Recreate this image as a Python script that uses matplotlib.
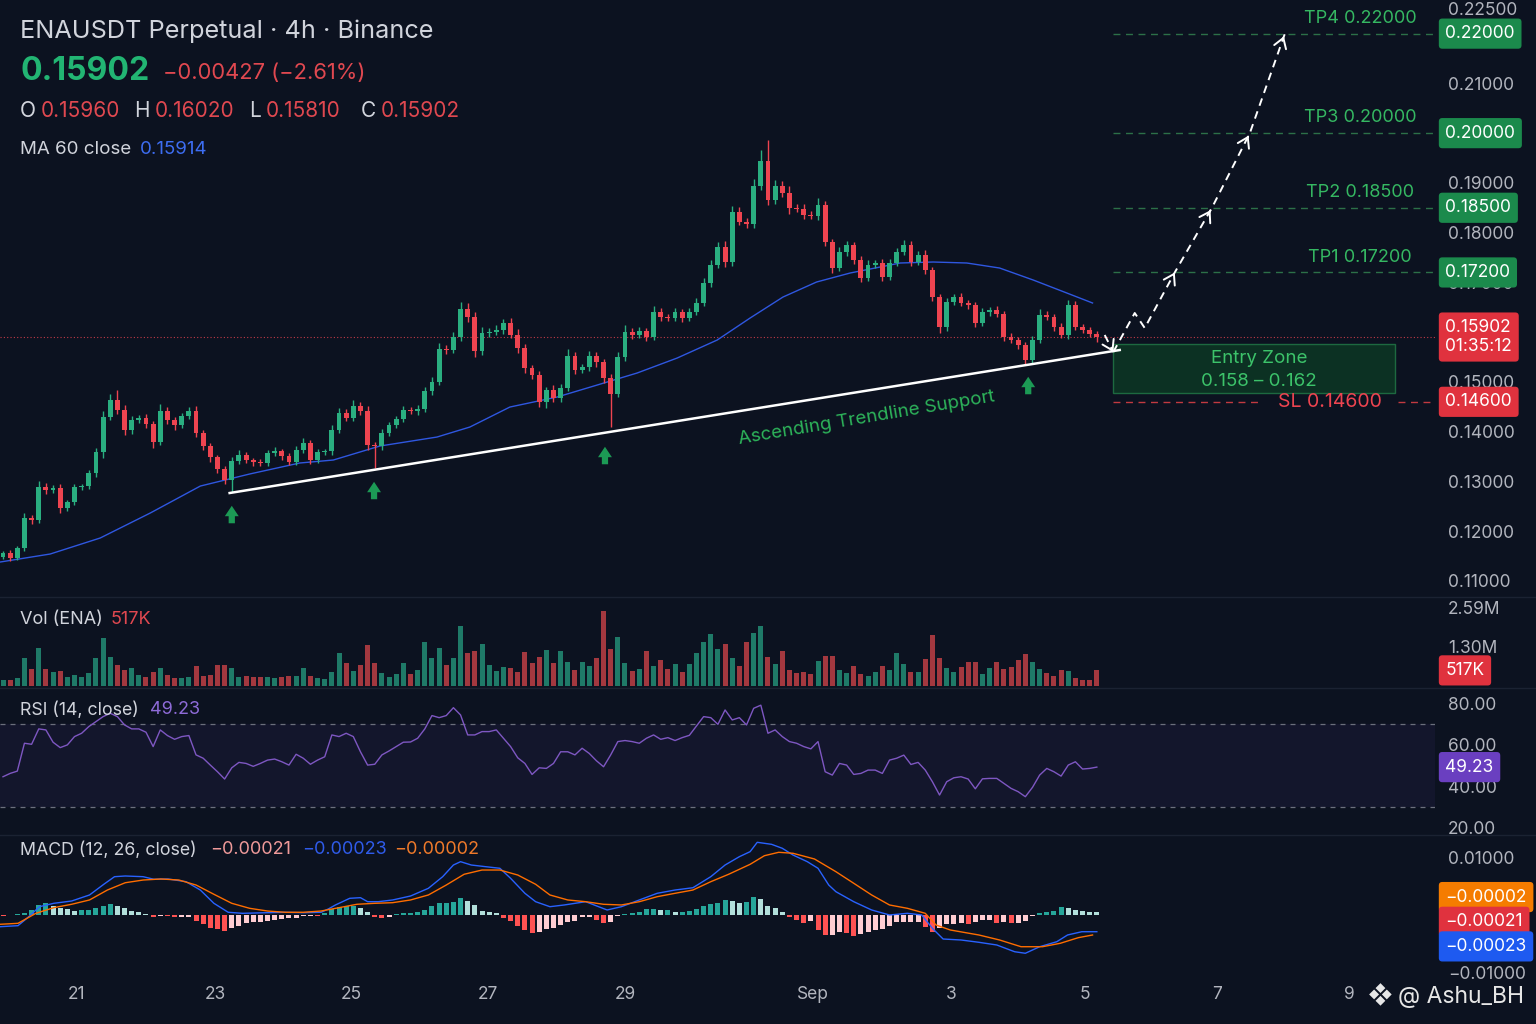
import matplotlib
matplotlib.use('Agg')
import matplotlib.pyplot as plt
import numpy as np
from matplotlib.patches import Rectangle
from matplotlib.lines import Line2D
from matplotlib.transforms import blended_transform_factory
from matplotlib.ticker import FuncFormatter

plt.rcParams['font.family'] = ['Inter', 'DejaVu Sans']

# ---- data (4h candles, index 0..153) ----
first_open = 0.11480
closes = [
    0.11561, 0.11460, 0.11661, 0.12264, 0.12224, 0.12887, 0.12827, 0.12867, 0.12465, 0.12586,
    0.12887, 0.12907, 0.13169, 0.13591, 0.14294, 0.14636, 0.14435, 0.14033, 0.14234, 0.14274,
    0.14154, 0.13792, 0.14415, 0.14234, 0.14133, 0.14314, 0.14415, 0.13973, 0.13711, 0.13490,
    0.13249, 0.13028, 0.13410, 0.13530, 0.13430, 0.13390, 0.13370, 0.13571, 0.13611, 0.13510,
    0.13390, 0.13631, 0.13772, 0.13430, 0.13591, 0.13611, 0.14033, 0.14375, 0.14274, 0.14515,
    0.14415, 0.13732, 0.13711, 0.13973, 0.14133, 0.14254, 0.14435, 0.14415, 0.14455, 0.14817,
    0.14998, 0.15661, 0.15641, 0.15902, 0.16465, 0.16304, 0.15621, 0.15983, 0.16003, 0.16043,
    0.16184, 0.15943, 0.15681, 0.15279, 0.15139, 0.14596, 0.14837, 0.14676, 0.14877, 0.15520,
    0.15239, 0.15299, 0.15520, 0.15400, 0.15078, 0.14757, 0.15500, 0.16003, 0.15943, 0.16023,
    0.15902, 0.16405, 0.16304, 0.16284, 0.16405, 0.16284, 0.16405, 0.16586, 0.16988, 0.17350,
    0.17711, 0.17410, 0.18415, 0.18214, 0.18174, 0.18937, 0.19440, 0.18656, 0.18937, 0.18797,
    0.18495, 0.18475, 0.18355, 0.18334, 0.18556, 0.17812, 0.17289, 0.17611, 0.17752, 0.17450,
    0.17088, 0.17350, 0.17390, 0.17108, 0.17390, 0.17611, 0.17752, 0.17410, 0.17551, 0.17249,
    0.16706, 0.16103, 0.16606, 0.16706, 0.16586, 0.16546, 0.16184, 0.16405, 0.16445, 0.16365,
    0.15902, 0.15842, 0.15742, 0.15440, 0.15842, 0.16345, 0.16304, 0.16103, 0.15943, 0.16546,
    0.16103, 0.16043, 0.15960, 0.15902]
# wick lengths in units of 0.0001
upper_wick = [
    4, 6, 5, 10, 6, 12, 8, 6, 8, 5, 6, 5, 7, 8, 12, 12, 20, 10, 8, 6,
    8, 6, 14, 8, 6, 6, 8, 10, 6, 7, 5, 6, 8, 10, 6, 5, 6, 6, 8, 5,
    6, 8, 10, 6, 6, 5, 10, 10, 8, 12, 8, 10, 6, 8, 6, 7, 8, 6, 8, 8,
    10, 12, 8, 10, 14, 12, 10, 12, 8, 10, 8, 10, 12, 8, 6, 8, 6, 10, 8, 14,
    8, 6, 10, 8, 6, 8, 10, 14, 8, 8, 6, 12, 8, 6, 8, 6, 8, 10, 10, 10,
    10, 12, 12, 10, 8, 14, 22, 42, 12, 10, 14, 8, 10, 8, 14, 8, 6, 10, 8, 6,
    8, 10, 6, 8, 8, 8, 10, 8, 8, 10, 6, 6, 8, 6, 8, 6, 6, 8, 6, 8,
    6, 8, 6, 6, 8, 12, 8, 6, 8, 10, 8, 6, 6, 6]
lower_wick = [
    4, 5, 4, 6, 8, 6, 8, 6, 10, 6, 5, 6, 5, 8, 12, 6, 8, 10, 8, 6,
    8, 12, 6, 8, 10, 6, 6, 8, 8, 10, 8, 8, 25, 6, 6, 8, 6, 6, 6, 8,
    6, 6, 6, 8, 6, 5, 8, 6, 6, 6, 8, 10, 44, 8, 6, 6, 6, 6, 8, 6,
    8, 6, 8, 6, 8, 10, 12, 8, 8, 6, 8, 6, 10, 10, 8, 10, 12, 8, 8, 6,
    8, 6, 8, 10, 10, 66, 6, 8, 8, 6, 8, 6, 8, 6, 6, 8, 6, 6, 6, 8,
    6, 10, 8, 6, 8, 8, 8, 10, 8, 8, 12, 6, 8, 6, 8, 8, 10, 6, 8, 8,
    8, 6, 6, 8, 6, 6, 6, 8, 6, 8, 8, 12, 8, 6, 6, 8, 8, 6, 8, 6,
    8, 6, 8, 8, 6, 6, 6, 8, 6, 8, 6, 6, 6, 9]
# volume in thousands
volume_k = [
    200, 200, 255, 920, 555, 1250, 555, 475, 510, 310, 365, 310, 420, 920, 1585, 975, 700, 530, 590, 365,
    310, 475, 590, 365, 255, 255, 310, 665, 330, 365, 700, 700, 590, 310, 340, 290, 290, 290, 265, 310,
    330, 330, 590, 330, 255, 220, 475, 1085, 755, 510, 700, 1360, 755, 420, 310, 400, 775, 400, 530, 1470,
    920, 1270, 700, 920, 1990, 1085, 1160, 1385, 700, 510, 620, 590, 475, 1140, 775, 975, 1195, 755,
    1173, 786, 531, 786, 675, 941, 2469, 1218, 1638, 775, 498, 554, 1162, 675, 863, 565, 720, 476, 720, 1107,
    1472, 1727, 1229, 1384, 941, 675, 1472, 1749, 1993, 952, 731, 1173, 531, 443, 476, 387, 841, 996, 996, 531,
    443, 675, 399, 343, 454, 675, 531, 1085, 720, 454, 476, 886, 1694, 919, 609, 476, 642, 808, 808, 387,
    587, 786, 554, 620, 863, 1063, 786, 554, 443, 343, 531, 509, 277, 199, 199, 517]
rsi = [
    44.6, 46.2, 47.3, 60.7, 60.2, 67.6, 67.1, 61.2, 58.6, 59.9, 63.9, 65.5, 68.7, 71.1, 73.5, 75.1, 73.5, 69.5, 67.6, 67.6,
    66.0, 59.1, 67.1, 64.4, 62.6, 63.9, 64.4, 55.1, 53.5, 50.2, 47.0, 43.5, 48.9, 51.5, 51.0, 49.6, 51.0, 52.6, 53.1, 51.8,
    50.2, 55.4, 53.5, 50.6, 52.6, 54.2, 64.7, 63.9, 65.5, 63.9, 56.6, 50.2, 50.6, 55.1, 57.0, 59.1, 61.2, 61.3, 63.1, 67.6,
    74.0, 73.0, 74.0, 77.8, 74.3, 64.7, 64.7, 66.3, 66.3, 67.1, 63.1, 59.1, 53.7, 51.0, 45.7, 48.9, 48.6, 51.0, 56.6, 56.6,
    55.1, 58.3, 55.8, 52.3, 49.4, 55.1, 61.5, 62.0, 61.5, 60.7, 63.1, 64.7, 62.6, 63.4, 62.0, 63.4, 64.5, 69.0, 73.5, 73.0,
    69.8, 76.7, 71.9, 73.0, 69.5, 77.5, 79.0, 65.5, 67.1, 63.9, 61.5, 60.7, 59.1, 58.0, 61.5, 47.0, 45.4, 51.0, 50.2, 45.7,
    46.2, 47.8, 47.8, 46.2, 52.6, 53.5, 55.0, 50.5, 51.5, 47.8, 42.2, 35.8, 42.2, 44.1, 44.6, 43.5, 38.8, 43.6, 43.8, 43.8,
    41.4, 39.0, 37.4, 35.0, 39.5, 45.4, 48.6, 47.0, 44.9, 50.2, 51.8, 48.3, 48.6, 49.23]
# MACD histogram in units of 0.001
macd_hist = [
    -0.10, 0.10, 0.20, 0.38, 0.96, 1.83, 2.12, 1.71, 1.36, 1.13, 0.78, 0.96, 0.96, 1.25, 1.71, 1.95, 1.71, 1.25, 0.78, 0.66,
    0.26, -0.29, -0.10, -0.15, -0.29, -0.29, -0.20, -0.96, -1.53, -2.12, -2.40, -2.64, -2.23, -1.77, -1.36, -1.18, -1.08, -0.90, -0.73, -0.61,
    -0.49, -0.38, -0.17, -0.12, -0.15, 0.38, 1.13, 1.53, 1.65, 1.71, 1.25, 0.58, -0.29, -0.38, -0.20, 0.23, 0.35, 0.46, 0.58, 0.96,
    1.71, 2.09, 2.12, 2.40, 2.99, 2.58, 1.83, 0.78, 0.58, 0.38, -0.38, -0.90, -1.91, -2.52, -3.10, -2.82, -2.40, -2.23, -1.65, -1.08,
    -0.90, -0.20, -0.20, -0.78, -1.36, -1.08, -0.10, 0.23, 0.35, 0.58, 1.13, 1.13, 0.96, 0.96, 0.66, 0.66, 0.78, 1.13, 1.71, 2.00,
    2.12, 2.70, 2.58, 2.23, 2.40, 3.16, 2.82, 1.65, 1.36, 0.58, -0.20, -0.78, -1.25, -0.96, -2.52, -3.39, -3.39, -2.82, -3.10, -3.51,
    -3.27, -2.82, -2.52, -2.40, -1.77, -1.18, -1.18, -1.18, -1.18, -1.95, -2.82, -2.23, -1.53, -1.53, -1.36, -1.53, -1.18, -0.84, -0.78, -1.36,
    -1.18, -1.36, -1.36, -0.96, -0.10, 0.38, 0.66, 0.78, 1.42, 1.25, 0.96, 0.85, 0.58, 0.55]
macd_idx = [-0.4, 2.1, 3.6, 5.1, 7.1, 9.6, 12.1, 14.1, 15.6, 17.1, 19.6, 21.1, 23.1, 25.6, 27.6, 29.5, 31.5, 33.5, 37.0, 39.5,
            42.0, 44.5, 45.5, 46.5, 48.5, 50.0, 51.0, 52.5, 54.5, 57.0, 59.5, 61.5, 63.0, 64.0, 65.5, 67.5, 69.5, 71.0, 73.0, 74.5,
            76.5, 78.5, 81.5, 84.5, 86.5, 89.0, 91.5, 94.0, 96.5, 99.0, 101.0, 103.0, 104.5, 105.5, 107.5, 109.0, 110.5, 112.5, 114.0, 115.5,
            116.5, 119.0, 121.5, 124.0, 126.5, 128.5, 130.0, 131.5, 134.0, 136.5, 139.0, 141.5, 143.0, 145.0, 147.4, 148.9, 150.9, 153.0]
macd_line = [-1.95, -1.77, -0.21, 1.53, 2.12, 2.52, 3.57, 5.43, 6.75, 6.87, 6.75, 6.30, 6.35, 5.88, 4.43, 2.12, 0.56, 0.38, 0.49, 0.56,
             0.49, 0.56, 1.13, 1.83, 2.99, 3.10, 2.40, 2.40, 2.70, 3.39, 4.73, 6.75, 8.78, 9.36, 8.78, 8.49, 8.21, 6.47, 3.86, 2.40,
             1.53, 1.83, 2.40, 0.96, 1.53, 2.70, 3.86, 4.43, 4.83, 6.75, 8.78, 10.23, 11.10, 12.73, 12.38, 11.69, 10.52, 9.36, 8.21, 5.30,
             4.14, 2.40, 0.96, 0.09, 0.38, 0.09, -2.23, -4.09, -4.26, -4.66, -5.13, -6.30, -6.57, -5.43, -4.56, -3.39, -2.82, -2.82]
signal_idx = [-0.4, 2.1, 4.6, 7.1, 9.6, 12.1, 14.6, 17.1, 19.6, 22.1, 24.6, 27.0, 29.5, 32.0, 34.5, 37.0, 39.5, 42.0, 44.5, 47.0,
              49.5, 52.0, 54.5, 57.0, 59.5, 62.0, 64.5, 67.0, 69.5, 72.0, 74.5, 76.5, 79.0, 81.5, 84.0, 86.5, 89.0, 91.5, 94.0, 96.5,
              99.0, 101.5, 104.5, 106.5, 108.5, 110.5, 113.5, 116.5, 119.0, 121.5, 124.0, 126.5, 129.0, 130.5, 132.5, 136.5, 139.4, 142.4,
              145.4, 147.9, 150.4, 152.4]
signal_line = [-1.53, -1.36, 0.38, 1.36, 1.95, 2.70, 4.43, 5.70, 6.17, 6.35, 6.17, 5.30, 3.69, 2.12, 1.25, 0.78, 0.56, 0.56, 0.78, 1.36,
               1.95, 2.12, 2.23, 2.70, 3.57, 5.30, 7.17, 7.91, 7.91, 7.04, 5.43, 3.57, 2.70, 2.40, 1.95, 1.83, 2.40, 3.27, 3.86, 4.43,
               5.88, 7.17, 8.90, 10.40, 10.99, 10.82, 9.83, 7.62, 5.60, 3.57, 1.83, 1.25, 0.38, -1.65, -2.52, -3.39, -4.26, -5.43,
               -5.43, -4.83, -3.86, -3.39]
ma_idx = [-0.4, 6.6, 13.6, 20.6, 27.6, 34.5, 41.5, 46.2, 52.7, 60.7, 65.3, 70.9, 77.5, 83.1, 88.7, 94.3, 99.9, 104.5,
          109.1, 113.8, 118.5, 125.5, 130.1, 134.8, 139.4, 144.1, 148.8, 152.4]
ma60 = [0.11380, 0.11541, 0.11863, 0.12365, 0.12907, 0.13149, 0.13370, 0.13430, 0.13711, 0.13892, 0.14093, 0.14495,
        0.14696, 0.14937, 0.15179, 0.15480, 0.15842, 0.16284, 0.16706, 0.17008, 0.17189, 0.17390, 0.17410, 0.17390,
        0.17289, 0.17048, 0.16787, 0.16586]

day_pos = [10.35, 29.65, 48.67, 67.8, 87.1, 113.3, 132.6, 151.3, 169.8, 188.3]
day_labels = ['21', '23', '25', '27', '29', 'Sep', '3', '5', '7', '9']
# 0.16, 0.20 and 0.22 sit under the price / target labels, as on the original
price_ticks = [0.11, 0.12, 0.13, 0.14, 0.15, 0.17, 0.18, 0.19, 0.21, 0.225]

last_price = 0.15902
tp_names = ['TP1', 'TP2', 'TP3', 'TP4']
tp_levels = [0.172, 0.185, 0.200, 0.220]
sl_level = 0.146
trend_x = [31.7, 156.2]
trend_y = [0.12767, 0.15641]
support_x = [32.0, 51.9, 84.2, 143.4]
support_tip = [0.12566, 0.13048, 0.13752, 0.15159]
support_tail = [0.12103, 0.12586, 0.13289, 0.14696]
path_x = [155.3, 158.3, 159.7, 163.9, 169.1, 174.4, 179.3]
path_y = [0.15601, 0.16385, 0.16083, 0.172, 0.185, 0.200, 0.220]

# ---- colours ----
BG = '#0c1220'
SEP = '#1b2232'
TXT = '#d1d4dc'
AX = '#b2b5be'
GREEN = '#2aae80'
RED = '#ee4450'
TPG = '#35b862'

W, H = 1536, 1024
fig = plt.figure(figsize=(15.36, 10.24), dpi=100, facecolor=BG)


def panel(top, bottom, right=1435):
    return [0, 1 - bottom / H, right / W, (bottom - top) / H]


ax_p = fig.add_axes(panel(0, 597))
ax_v = fig.add_axes(panel(597, 688), sharex=ax_p)
ax_r = fig.add_axes(panel(688, 835), sharex=ax_p)
ax_m = fig.add_axes(panel(835, 978), sharex=ax_p)

for ax in (ax_p, ax_v, ax_r, ax_m):
    ax.set_facecolor(BG)
    for s in ax.spines.values():
        s.set_visible(False)
    ax.yaxis.tick_right()
    ax.tick_params(axis='y', length=0, pad=9.5, labelsize=12.5, labelcolor=AX)
    ax.tick_params(axis='x', length=0, labelbottom=False)

ax_p.set_xlim(-0.42, 200.3)

# ---- candles ----
closes = np.array(closes)
opens = np.concatenate([[first_open], closes[:-1]])
highs = np.maximum(opens, closes) + np.array(upper_wick) * 1e-4
lows = np.minimum(opens, closes) - np.array(lower_wick) * 1e-4
idx = np.arange(len(closes))
up = closes >= opens
cols = np.where(up, GREEN, RED)
ax_p.vlines(idx, lows, highs, colors=cols, lw=1.0, zorder=3)
ax_p.bar(idx, np.maximum(np.abs(closes - opens), 0.00025), bottom=np.minimum(opens, closes),
         width=0.68, color=cols, zorder=4)
ax_p.plot(ma_idx, ma60, color='#2f57e0', lw=1.0, zorder=2)

ax_p.set_ylim(0.10677, 0.22676)
ax_p.set_yticks(price_ticks)
ax_p.yaxis.set_major_formatter(FuncFormatter(lambda v, p: f'{v:.5f}'))
ax_p.axhline(last_price, color=RED, lw=0.8, ls=(0, (1, 2)), alpha=0.8, zorder=1)

# trendline + support arrows
ax_p.plot(trend_x, trend_y, color='white', lw=1.8, zorder=5)
for x, tip, tail in zip(support_x, support_tip, support_tail):
    ax_p.annotate('', xy=(x, tip), xytext=(x, tail),
                  arrowprops=dict(arrowstyle='simple,head_width=1.0,head_length=0.75,tail_width=0.45',
                                  fc='#1c9a55', ec='none'))
ax_p.text(120.8, 0.14274, 'Ascending Trendline Support', color='#2db35a', fontsize=13.5,
          rotation=9.5, ha='center', va='center', rotation_mode='anchor')

# targets / stop
ax_p.hlines(tp_levels, 155.3, 200.3, colors='#2c7048', lw=1.0, linestyles=(0, (5, 4)))
for name, lv in zip(tp_names, tp_levels):
    ax_p.annotate(f'{name} {lv:.5f}', xy=(189.8, lv), xytext=(0, 11), textcoords='offset points',
                  ha='center', va='center', color=TPG, fontsize=13)
ax_p.hlines(sl_level, 155.3, 176.1, colors='#c23a40', lw=1.0, linestyles=(0, (5, 4)))
ax_p.hlines(sl_level, 195.1, 200.3, colors='#c23a40', lw=1.0, linestyles=(0, (5, 4)))
ax_p.text(185.6, sl_level, f'SL {sl_level:.5f}', color='#ee4450', fontsize=14, ha='center', va='center')

# entry zone box (annotation placed under the last price)
bt = blended_transform_factory(ax_p.transData, ax_p.transAxes)
ax_p.add_patch(Rectangle((155.3, 0.3417), 194.7 - 155.3, 0.4238 - 0.3417, transform=bt,
                         fc='#0d3324', ec='#1f6e42', lw=1.0, alpha=0.95, zorder=2))
ax_p.text(175.7, 0.3987, 'Entry Zone', transform=bt, color='#3cc36a', fontsize=13.5, ha='center', va='center')
ax_p.text(175.7, 0.3618, '0.158 – 0.162', transform=bt, color='#3cc36a', fontsize=13.5, ha='center', va='center')

# projected path
ax_p.plot([154.1, 155.3], [0.15943, 0.15601], color='white', lw=1.4, ls=(0, (4, 3)), zorder=6)
ax_p.plot(path_x, path_y, color='white', lw=1.4, ls=(0, (4, 3)), zorder=6)
heads = [((154.1, 0.15943), (155.3, 0.15601))] + [((path_x[k - 1], path_y[k - 1]), (path_x[k], path_y[k]))
                                                  for k in range(3, len(path_x))]
for (x0, y0), (x1, y1) in heads:
    ax_p.annotate('', xy=(x1, y1), xytext=(x1 - 0.08 * (x1 - x0), y1 - 0.08 * (y1 - y0)),
                  arrowprops=dict(arrowstyle='->,head_length=0.7,head_width=0.45', color='white', lw=1.4),
                  zorder=6)


def side_label(ax, y, text, fc, coords='data'):
    ax.annotate(text, xy=(1, y), xycoords=('axes fraction', coords), xytext=(7.5, 0),
                textcoords='offset points', va='center', ha='left', fontsize=12.5, color='white',
                annotation_clip=False, linespacing=1.15, zorder=10,
                bbox=dict(boxstyle='round,pad=0.38,rounding_size=0.2', fc=fc, ec='none'))


for lv in tp_levels:
    side_label(ax_p, lv, f'{lv:.5f}', '#1b8a4c')
side_label(ax_p, last_price, f'{last_price:.5f}\n01:35:12', '#e0323e')
side_label(ax_p, sl_level, f'{sl_level:.5f}', '#e0323e')

# ---- volume ----
vcols = np.where(up, '#1f7a68', '#a3383f')
ax_v.bar(idx, volume_k, width=0.7, color=vcols)
ax_v.set_ylim(-66, 2946)
ax_v.set_yticks([1300, 2590])
ax_v.set_yticklabels(['1.30M', '2.59M'])
side_label(ax_v, volume_k[-1], '517K', '#e0323e')

# ---- RSI ----
ax_r.axhspan(30, 70, color='#6a4fc0', alpha=0.08, lw=0)
ax_r.axhline(70, color='#6b6f7c', lw=0.9, ls=(0, (4, 4)))
ax_r.axhline(30, color='#6b6f7c', lw=0.9, ls=(0, (4, 4)))
ax_r.plot(idx, rsi, color='#7e57c2', lw=1.0)
ax_r.set_ylim(16.59, 87.26)
ax_r.set_yticks([20, 40, 60, 80])
ax_r.yaxis.set_major_formatter(FuncFormatter(lambda v, p: f'{v:.2f}'))
side_label(ax_r, rsi[-1], f'{rsi[-1]:.2f}', '#6a3fc0')

# ---- MACD ----
hist = np.array(macd_hist)
prev = np.concatenate([[0.0], hist[:-1]])
hcols = np.where(hist >= 0, np.where(hist >= prev, '#26a69a', '#b2dfdb'),
                 np.where(hist < prev, '#ff5252', '#ffcdd2'))
ax_m.bar(idx, hist, width=0.7, color=hcols)
ax_m.plot(macd_idx, macd_line, color='#2962ff', lw=1.0)
ax_m.plot(signal_idx, signal_line, color='#ff6d00', lw=1.0)
ax_m.set_ylim(-10.87, 14.0)
ax_m.set_yticks([-10, 10])
ax_m.yaxis.set_major_formatter(FuncFormatter(lambda v, p: f'{v / 1000:.5f}'.replace('-', '−')))
side_label(ax_m, 0.566, '−0.00002', '#f57c00', 'axes fraction')
side_label(ax_m, 0.393, '−0.00021', '#e0323e', 'axes fraction')
side_label(ax_m, 0.221, '−0.00023', '#1e5af0', 'axes fraction')

ax_m.set_xticks(day_pos)
ax_m.set_xticklabels(day_labels)
ax_m.tick_params(axis='x', labelbottom=True, labelsize=12.5, labelcolor=AX, pad=6)

# ---- separators ----
for ypx in (597, 688, 835):
    fig.add_artist(Line2D([0, 1], [1 - ypx / H] * 2, color=SEP, lw=1.0))


# ---- header / legends ----
def ftext(x, y, s, color=TXT, size=13, **kw):
    fig.text(x / W, 1 - y / H, s, color=color, fontsize=size, ha='left', va='center', **kw)


ftext(20, 31, 'ENAUSDT Perpetual · 4h · Binance', size=18.2)
ftext(20, 72, '0.15902', color='#22b573', size=23, weight='bold')
ftext(163, 73, '−0.00427 (−2.61%)', color='#e04850', size=15.8)
for lab, x in (('O', 20), ('H', 134), ('L', 249), ('C', 361)):
    ftext(x, 111, lab, size=15)
for val, x in (('0.15960', 41), ('0.16020', 155), ('0.15810', 266), ('0.15902', 381)):
    ftext(x, 111, val, color='#e04850', size=15)
ftext(20, 149, 'MA 60 close', size=13.5)
ftext(140, 149, '0.15914', color='#3d6df2', size=13.5)
ftext(20, 619, 'Vol (ENA)', size=13)
ftext(111, 619, '517K', color='#e04850', size=13)
ftext(20, 710, 'RSI (14, close)', size=12.8)
ftext(150, 710, '49.23', color='#8e6bd8', size=13)
ftext(20, 850, 'MACD (12, 26, close)', size=12.8)
ftext(210, 850, '−0.00021', color='#f09a9a', size=13)
ftext(302, 850, '−0.00023', color='#2f5bea', size=13)
ftext(394, 850, '−0.00002', color='#f07a2a', size=13)
ftext(1368, 997, '❖', color='#e6e6e6', size=17)
ftext(1398, 997, '@ Ashu_BH', color='#e6e6e6', size=16.5)

fig.savefig('out.png', dpi=100, facecolor=BG)
